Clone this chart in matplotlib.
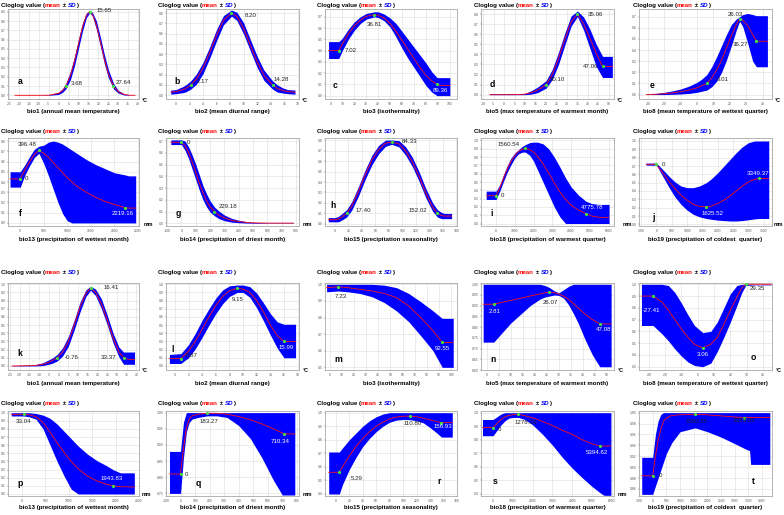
import numpy as np
import matplotlib
matplotlib.use('Agg')
import matplotlib.pyplot as plt
from matplotlib.ticker import FormatStrFormatter

W, H = 784, 515
FONT = ['Liberation Sans', 'DejaVu Sans']
plt.rcParams['font.family'] = FONT

# ---------------- data ----------------
a_x = [-22, -10, -5, 0, 2, 3.68, 6, 8, 10, 12, 14, 15.65, 17, 19, 21, 23, 25, 27.64, 30, 33, 36, 38.5]
a_mean = [0, 0, 0.001, 0.021, 0.052, 0.10, 0.217, 0.368, 0.553, 0.734, 0.863, 0.90, 0.875, 0.758, 0.581, 0.394, 0.236, 0.10, 0.039, 0.009, 0.001, 0]
a_sd = [0.002, 0.002, 0.004, 0.012, 0.02, 0.03, 0.045, 0.05, 0.05, 0.045, 0.025, 0.012, 0.02, 0.045, 0.05, 0.05, 0.045, 0.03, 0.015, 0.006, 0.002, 0.002]

b_x = [-0.8, 0, 0.5, 1, 1.5, 2.17, 3, 4, 5, 6, 7, 8.2, 9, 10, 11, 12, 13, 14.28, 15, 15.8, 16.5, 17.6]
b_mean = [0.03, 0.035, 0.045, 0.054, 0.069, 0.10, 0.157, 0.267, 0.42, 0.587, 0.73, 0.80, 0.768, 0.65, 0.486, 0.325, 0.195, 0.10, 0.065, 0.046, 0.035, 0.03]
b_sd = [0.02, 0.02, 0.025, 0.03, 0.035, 0.04, 0.05, 0.055, 0.055, 0.055, 0.045, 0.03, 0.04, 0.055, 0.055, 0.055, 0.05, 0.04, 0.035, 0.025, 0.02, 0.02]

c_x = [-1.5, 7.02, 10, 15, 20, 25, 30, 36.81, 40, 45, 50, 55, 60, 65, 70, 75, 80, 85, 89.36, 93, 100]
c_mean = [0.40, 0.40, 0.46, 0.55, 0.62, 0.67, 0.705, 0.72, 0.715, 0.69, 0.64, 0.57, 0.49, 0.41, 0.33, 0.25, 0.18, 0.13, 0.10, 0.09, 0.09]
c_lo = [0.33, 0.33, 0.40, 0.50, 0.58, 0.64, 0.68, 0.70, 0.695, 0.665, 0.61, 0.52, 0.42, 0.33, 0.25, 0.17, 0.09, 0.03, 0.0, 0.0, 0.0]
c_hi = [0.48, 0.48, 0.51, 0.59, 0.655, 0.70, 0.73, 0.745, 0.745, 0.725, 0.69, 0.64, 0.57, 0.50, 0.43, 0.36, 0.29, 0.21, 0.16, 0.16, 0.16]

d_x = [-6.8, 0, 5, 10, 13, 16, 20.10, 23, 26, 29, 32, 35.06, 38, 41, 44, 47.06, 51.7]
d_mean = [0, 0, 0, 0.005, 0.02, 0.045, 0.10, 0.20, 0.36, 0.55, 0.72, 0.80, 0.70, 0.56, 0.41, 0.28, 0.28]
d_lo = [0, 0, 0, 0, 0.005, 0.02, 0.065, 0.15, 0.30, 0.49, 0.68, 0.775, 0.64, 0.46, 0.28, 0.17, 0.17]
d_hi = [0.01, 0.01, 0.01, 0.012, 0.04, 0.075, 0.14, 0.25, 0.42, 0.61, 0.78, 0.83, 0.77, 0.65, 0.50, 0.38, 0.38]

e_x = [-31, -25, -20, -15, -10, -5, 0, 3, 6.01, 9, 12, 15, 18, 21, 24, 26.03, 28, 31, 34, 36.27, 40, 43]
e_mean = [0, 0.003, 0.008, 0.015, 0.025, 0.04, 0.06, 0.08, 0.10, 0.15, 0.22, 0.31, 0.42, 0.53, 0.63, 0.68, 0.67, 0.62, 0.54, 0.48, 0.48, 0.48]
e_lo = [0, 0, 0, 0.002, 0.005, 0.01, 0.02, 0.03, 0.04, 0.07, 0.12, 0.20, 0.31, 0.44, 0.58, 0.66, 0.61, 0.46, 0.30, 0.25, 0.25, 0.25]
e_hi = [0.005, 0.01, 0.02, 0.033, 0.05, 0.075, 0.11, 0.14, 0.18, 0.25, 0.34, 0.44, 0.54, 0.63, 0.68, 0.70, 0.72, 0.73, 0.72, 0.71, 0.71, 0.71]

f_x = [-216, 0, 100, 200, 300, 396.48, 500, 600, 700, 800, 900, 1000, 1100, 1200, 1400, 1600, 1800, 2000, 2219.16, 2300, 2450]
f_mean = [0.43, 0.43, 0.52, 0.60, 0.67, 0.71, 0.68, 0.64, 0.59, 0.54, 0.49, 0.44, 0.40, 0.36, 0.30, 0.25, 0.21, 0.18, 0.15, 0.145, 0.145]
f_lo = [0.35, 0.35, 0.47, 0.56, 0.64, 0.68, 0.58, 0.46, 0.33, 0.20, 0.09, 0.02, 0.0, 0.0, 0, 0, 0, 0, 0, 0, 0]
f_hi = [0.50, 0.50, 0.57, 0.65, 0.72, 0.75, 0.76, 0.79, 0.80, 0.79, 0.77, 0.74, 0.71, 0.68, 0.62, 0.57, 0.53, 0.49, 0.47, 0.46, 0.46]

g_x = [-74, 0, 25, 50, 75, 100, 125, 150, 175, 200, 229.18, 260, 300, 350, 400, 450, 500, 600, 781]
g_mean = [0.69, 0.69, 0.66, 0.60, 0.52, 0.43, 0.34, 0.26, 0.19, 0.14, 0.10, 0.07, 0.045, 0.025, 0.015, 0.008, 0.004, 0.002, 0.002]
g_lo = [0.67, 0.67, 0.62, 0.55, 0.46, 0.37, 0.28, 0.20, 0.14, 0.095, 0.065, 0.04, 0.022, 0.01, 0.005, 0.002, 0.001, 0.0, 0.0]
g_hi = [0.71, 0.71, 0.70, 0.65, 0.58, 0.50, 0.41, 0.32, 0.25, 0.19, 0.14, 0.105, 0.07, 0.042, 0.026, 0.015, 0.009, 0.004, 0.004]

h_x = [-9.6, 0, 5, 10, 17.40, 25, 35, 45, 55, 65, 75, 84.33, 95, 105, 115, 125, 135, 145, 152.02, 158, 162, 173]
h_mean = [0.04, 0.04, 0.045, 0.065, 0.10, 0.17, 0.31, 0.47, 0.61, 0.71, 0.77, 0.78, 0.765, 0.695, 0.59, 0.45, 0.29, 0.16, 0.10, 0.08, 0.075, 0.075]
h_sd = [0.02, 0.02, 0.025, 0.03, 0.035, 0.04, 0.045, 0.045, 0.045, 0.04, 0.03, 0.02, 0.03, 0.04, 0.045, 0.045, 0.045, 0.04, 0.035, 0.03, 0.025, 0.025]

i_x = [-525, 0, 200, 400, 600, 800, 1000, 1200, 1400, 1560.54, 1800, 2000, 2200, 2500, 2800, 3100, 3400, 3700, 4000, 4400, 4775.78, 5100, 5500, 6020]
i_mean = [0.335, 0.335, 0.43, 0.55, 0.66, 0.75, 0.82, 0.87, 0.895, 0.905, 0.89, 0.86, 0.81, 0.72, 0.61, 0.49, 0.38, 0.29, 0.22, 0.16, 0.12, 0.09, 0.075, 0.07]
i_lo = [0.29, 0.29, 0.39, 0.51, 0.62, 0.71, 0.79, 0.84, 0.86, 0.86, 0.82, 0.75, 0.65, 0.50, 0.35, 0.20, 0.08, 0.0, 0, 0, 0, 0, 0, 0]
i_hi = [0.39, 0.39, 0.47, 0.59, 0.70, 0.79, 0.85, 0.89, 0.93, 0.95, 0.975, 0.98, 0.98, 0.96, 0.90, 0.80, 0.68, 0.55, 0.44, 0.34, 0.27, 0.24, 0.23, 0.23]

j_x = [-338, 0, 200, 400, 600, 800, 1000, 1200, 1400, 1625.52, 1800, 2000, 2200, 2400, 2600, 2800, 3000, 3200, 3349.37, 3660]
j_mean = [0.72, 0.72, 0.62, 0.52, 0.43, 0.35, 0.29, 0.24, 0.215, 0.21, 0.22, 0.25, 0.29, 0.34, 0.40, 0.46, 0.51, 0.54, 0.55, 0.55]
j_lo = [0.71, 0.71, 0.58, 0.45, 0.33, 0.24, 0.17, 0.12, 0.09, 0.07, 0.06, 0.05, 0.045, 0.04, 0.04, 0.045, 0.055, 0.065, 0.07, 0.07]
j_hi = [0.735, 0.735, 0.66, 0.58, 0.51, 0.46, 0.44, 0.44, 0.46, 0.50, 0.55, 0.62, 0.70, 0.78, 0.86, 0.93, 0.98, 1.0, 1.0, 1.0]

k_x = [-24, -20, -12, -8, -5, -3, -0.76, 2, 5, 8, 11, 14, 16.41, 19, 22, 25, 28, 31, 33.37, 36, 39]
k_mean = [0, 0, 0.005, 0.02, 0.045, 0.07, 0.10, 0.17, 0.30, 0.50, 0.72, 0.89, 0.95, 0.90, 0.76, 0.56, 0.34, 0.17, 0.10, 0.08, 0.08]
k_lo = [0, 0, 0, 0.005, 0.02, 0.035, 0.06, 0.12, 0.24, 0.44, 0.66, 0.85, 0.925, 0.86, 0.70, 0.50, 0.28, 0.11, 0.02, 0.02, 0.02]
k_hi = [0.005, 0.008, 0.015, 0.04, 0.075, 0.10, 0.14, 0.22, 0.36, 0.56, 0.78, 0.93, 0.975, 0.94, 0.82, 0.62, 0.40, 0.23, 0.17, 0.17, 0.17]

l_x = [-0.8, 0.87, 2, 3, 4, 5, 6, 7, 8, 9.15, 10, 11, 12, 13, 14, 15, 15.99, 17, 17.7]
l_mean = [0.09, 0.09, 0.18, 0.30, 0.45, 0.60, 0.74, 0.85, 0.92, 0.95, 0.94, 0.90, 0.80, 0.66, 0.50, 0.37, 0.30, 0.30, 0.30]
l_lo = [0.03, 0.03, 0.10, 0.21, 0.35, 0.50, 0.64, 0.76, 0.85, 0.90, 0.90, 0.84, 0.71, 0.55, 0.38, 0.22, 0.10, 0.10, 0.10]
l_hi = [0.14, 0.15, 0.26, 0.40, 0.56, 0.70, 0.83, 0.93, 0.98, 0.99, 0.99, 0.97, 0.89, 0.77, 0.64, 0.54, 0.51, 0.51, 0.51]

m_x = [-2.4, 7.23, 15, 25, 35, 45, 55, 65, 75, 85, 92.55, 101.6]
m_mean = [0.98, 0.985, 0.98, 0.97, 0.96, 0.945, 0.92, 0.87, 0.80, 0.72, 0.65, 0.65]
m_lo = [0.955, 0.96, 0.955, 0.945, 0.925, 0.89, 0.84, 0.775, 0.69, 0.60, 0.50, 0.50]
m_hi = [1.0, 1.0, 1.0, 1.0, 1.0, 0.995, 0.98, 0.945, 0.895, 0.84, 0.795, 0.795]

n_x = [-1.6, 2.81, 6, 10, 14, 18, 22, 24, 26.07, 28, 30, 32, 34, 36, 38, 41, 44, 47.08, 51.8]
n_mean = [0.907, 0.907, 0.915, 0.925, 0.935, 0.945, 0.955, 0.96, 0.963, 0.961, 0.955, 0.945, 0.93, 0.91, 0.89, 0.86, 0.835, 0.815, 0.815]
n_lo = [0.73, 0.73, 0.77, 0.82, 0.86, 0.90, 0.93, 0.94, 0.945, 0.95, 0.948, 0.935, 0.905, 0.865, 0.82, 0.74, 0.67, 0.615, 0.615]
n_hi = [1.0, 1.0, 1.0, 1.0, 1.0, 1.0, 1.0, 0.995, 0.985, 0.97, 0.96, 0.975, 0.99, 1.0, 1.0, 1.0, 1.0, 1.0, 1.0]

o_x = [-34.5, -27.41, -22, -18, -14, -10, -6, -2, 3.06, 8, 12, 16, 20, 24, 27, 29.35, 35, 45]
o_mean = [0.90, 0.90, 0.85, 0.78, 0.70, 0.62, 0.55, 0.49, 0.46, 0.49, 0.55, 0.66, 0.78, 0.89, 0.97, 1.0, 1.0, 1.0]
o_lo = [0.65, 0.65, 0.58, 0.52, 0.45, 0.39, 0.34, 0.31, 0.30, 0.33, 0.43, 0.55, 0.68, 0.82, 0.93, 0.99, 0.995, 0.995]
o_hi = [1.0, 1.0, 1.0, 0.99, 0.93, 0.84, 0.74, 0.65, 0.59, 0.60, 0.68, 0.80, 0.92, 0.99, 1.0, 1.0, 1.0, 1.0]

p_x = [-230, 0, 33.04, 150, 300, 450, 600, 750, 900, 1050, 1200, 1400, 1600, 1800, 1943.83, 2100, 2400]
p_mean = [0.98, 0.98, 0.98, 0.975, 0.95, 0.88, 0.76, 0.63, 0.51, 0.40, 0.31, 0.22, 0.16, 0.12, 0.10, 0.09, 0.085]
p_lo = [0.96, 0.96, 0.96, 0.95, 0.92, 0.80, 0.60, 0.40, 0.22, 0.06, 0.0, 0, 0, 0, 0, 0, 0]
p_hi = [1.0, 1.0, 1.0, 1.0, 0.99, 0.97, 0.93, 0.86, 0.77, 0.68, 0.59, 0.49, 0.41, 0.35, 0.30, 0.26, 0.26]

q_x = [-76, 0, 20, 40, 60, 80, 120, 183.27, 250, 320, 400, 480, 560, 640, 700, 710.34, 786]
q_mean = [0.81, 0.81, 0.89, 0.95, 0.98, 0.99, 0.995, 0.998, 0.998, 0.995, 0.988, 0.978, 0.965, 0.95, 0.937, 0.934, 0.934]
q_lo = [0.75, 0.75, 0.86, 0.94, 0.97, 0.98, 0.985, 0.99, 0.99, 0.985, 0.96, 0.92, 0.86, 0.79, 0.745, 0.745, 0.745]
q_hi = [0.88, 0.88, 0.97, 1.0, 1.0, 1.0, 1.0, 1.0, 1.0, 1.0, 1.0, 1.0, 1.0, 1.0, 1.0, 1.0, 1.0]

r_x = [-10.5, 5.29, 10, 20, 30, 40, 50, 60, 70, 80, 90, 100, 110.80, 120, 130, 140, 150, 156.93, 173]
r_mean = [0.56, 0.56, 0.60, 0.68, 0.75, 0.81, 0.86, 0.90, 0.93, 0.955, 0.968, 0.974, 0.975, 0.97, 0.96, 0.947, 0.935, 0.926, 0.926]
r_lo = [0.40, 0.40, 0.47, 0.58, 0.67, 0.75, 0.81, 0.86, 0.90, 0.93, 0.945, 0.95, 0.948, 0.94, 0.925, 0.89, 0.85, 0.82, 0.82]
r_hi = [0.71, 0.71, 0.74, 0.80, 0.85, 0.90, 0.94, 0.97, 0.99, 1.0, 1.0, 1.0, 1.0, 1.0, 1.0, 1.0, 1.0, 1.0, 1.0]

s_x = [-535, 0, 200, 400, 600, 800, 1000, 1278.03, 1600, 2000, 2500, 3000, 3500, 4000, 4500, 5000, 5394.62, 5600, 5950]
s_mean = [0.89, 0.89, 0.92, 0.95, 0.97, 0.98, 0.985, 0.988, 0.978, 0.962, 0.935, 0.905, 0.87, 0.84, 0.80, 0.77, 0.754, 0.754, 0.754]
s_lo = [0.83, 0.83, 0.87, 0.91, 0.94, 0.96, 0.965, 0.965, 0.95, 0.91, 0.84, 0.76, 0.67, 0.59, 0.52, 0.455, 0.41, 0.39, 0.39]
s_hi = [0.95, 0.95, 0.97, 0.99, 1.0, 1.0, 1.0, 1.0, 1.0, 1.0, 1.0, 1.0, 1.0, 1.0, 1.0, 1.0, 1.0, 1.0, 1.0]

t_x = [-400, 0, 100, 200, 300, 400, 500, 700, 1000, 1550.85, 2000, 2500, 3000, 3323.03, 3540, 3580, 4280]
t_mean = [0.884, 0.884, 0.92, 0.95, 0.97, 0.985, 0.99, 0.995, 0.996, 0.997, 0.996, 0.994, 0.992, 0.991, 0.991, 0.991, 0.991]
t_lo = [0.85, 0.85, 0.865, 0.88, 0.895, 0.91, 0.925, 0.945, 0.965, 0.972, 0.965, 0.955, 0.943, 0.935, 0.93, 0.905, 0.905]
t_hi = [0.918, 0.918, 0.96, 0.985, 0.997, 1.0, 1.0, 1.0, 1.0, 1.0, 1.0, 1.0, 1.0, 1.0, 1.0, 1.0, 1.0]

XL = ['bio1 (annual mean temperature)', 'bio2 (mean diurnal range)', 'bio3 (isothermality)',
      'bio5 (max temperature of warmest month)', 'bio8 (mean temperature of wettest quarter)',
      'bio13 (precipitation of wettest month)', 'bio14 (precipitation of driest month)',
      'bio15 (precipitation seasonality)', 'bio18 (precipitation of warmest quarter)',
      'bio19 (precipitation of coldest  quarter)']

# ---------------- layout ----------------
COLS = [(8, 139), (166, 299), (325, 457), (481, 614), (639, 772)]
ROWS = [(9, 99), (138, 226), (283, 370), (411, 496)]
TITLE_Y = [5, 131, 272, 403]
XLABEL_Y = [112, 240, 383, 508]
TITLE_X = [1, 158, 317, 474, 633]
DK = '#222222'
WH = 'white'

def yr(a, b, s):
    return np.round(np.arange(a, b + s / 2, s), 3)

PANELS = [
    dict(k='a', x=a_x, m=a_mean, sd=a_sd, xlim=(-25.5, 40.5), ylim=(-0.04, 0.93), xt=range(-25, 41, 5), yt=yr(0, 0.9, 0.1), yf='%.1f',
         unit=('°C', 145, 100), lp=(20, 81),
         lab=[(15.65, '15.65', 7, -1, 'left', DK), (3.68, '3.68', 5, -3, 'left', DK), (27.64, '27.64', 2, -4, 'left', DK)]),
    dict(k='b', x=b_x, m=b_mean, sd=b_sd, xlim=(-1.5, 18.2), ylim=(-0.037, 0.84), xt=range(0, 19, 2), yt=yr(0, 0.8, 0.1), yf='%.1f',
         unit=('°C', 305, 100), lp=(177, 81),
         lab=[(8.2, '8.20', 13, 2, 'left', DK), (2.17, '2.17', 6, -3, 'left', DK), (14.28, '14.28', 1, -5, 'left', DK)]),
    dict(k='c', x=c_x, m=c_mean, lo=c_lo, hi=c_hi, xlim=(-4.5, 106), ylim=(-0.03, 0.77), xt=range(0, 101, 10), yt=yr(0, 0.7, 0.1), yf='%.1f',
         unit=None, lp=(335, 85),
         lab=[(7.02, '7.02', 6, 0, 'left', DK), (36.81, '36.81', 0, 10, 'center', DK), (89.36, '89.36', 3, 6, 'center', WH)]),
    dict(k='d', x=d_x, m=d_mean, lo=d_lo, hi=d_hi, xlim=(-11, 52.5), ylim=(-0.043, 0.85), xt=range(-10, 51, 5), yt=yr(0, 0.8, 0.1), yf='%.1f',
         unit=('°C', 620, 100), lp=(492, 84),
         lab=[(35.06, '35.06', 10, 0, 'left', DK), (20.10, '20.10', 4, -5, 'left', DK), (47.06, '47.06', -4, 0, 'right', DK)]),
    dict(k='e', x=e_x, m=e_mean, lo=e_lo, hi=e_hi, xlim=(-35.4, 45.8), ylim=(-0.04, 0.77), xt=range(-30, 41, 10), yt=yr(0, 0.7, 0.1), yf='%.1f',
         unit=('°C', 778, 100), lp=(652, 86),
         lab=[(26.03, '26.03', -4, -4, 'center', DK), (36.27, '36.27', -8, 3, 'right', DK), (6.01, '6.01', 10, -4, 'left', DK)]),
    dict(k='f', x=f_x, m=f_mean, lo=f_lo, hi=f_hi, xlim=(-260, 2520), ylim=(-0.03, 0.83), xt=range(0, 2501, 500), yt=yr(0, 0.8, 0.1), yf='%.1f',
         unit=('mm', 148, 225), lp=(20, 213),
         lab=[(396.48, '396.48', -2, -6, 'right', DK), (0, '0', 4, 0, 'left', DK), (2219.16, '2219.16', -2, 6, 'center', WH)]),
    dict(k='g', x=g_x, m=g_mean, lo=g_lo, hi=g_hi, xlim=(-108, 820), ylim=(-0.023, 0.726), xt=range(-100, 801, 100), yt=yr(0, 0.7, 0.1), yf='%.1f',
         unit=('mm', 307, 225), lp=(178, 213),
         lab=[(0, '0', 5, 0, 'left', DK), (229.18, '229.18', 4, -5, 'left', DK)]),
    dict(k='h', x=h_x, m=h_mean, sd=h_sd, xlim=(-14.5, 181), ylim=(-0.02, 0.82), xt=range(0, 181, 20), yt=yr(0, 0.8, 0.1), yf='%.1f',
         unit=None, lp=(333, 206),
         lab=[(84.33, '84.33', 10, -1, 'left', DK), (17.40, '17.40', 9, -3, 'left', DK), (152.02, '152.02', -10, -3, 'right', DK)]),
    dict(k='i', x=i_x, m=i_mean, lo=i_lo, hi=i_hi, xlim=(-803, 6283), ylim=(-0.03, 1.03), xt=range(0, 6001, 1000), yt=yr(0, 1.0, 0.1), yf='%.1f',
         unit=('mm', 627, 225), lp=(492, 214),
         lab=[(1560.54, '1560.54', -6, -4, 'right', DK), (0, '0', 5, 0, 'left', DK), (4775.78, '4775.78', 6, -6, 'center', WH)]),
    dict(k='j', x=j_x, m=j_mean, lo=j_lo, hi=j_hi, xlim=(-568, 3766), ylim=(-0.02, 1.036), xt=range(-500, 3501, 500), yt=yr(0, 1.0, 0.1), yf='%.1f',
         unit=('mm', 778, 225), lp=(653, 217),
         lab=[(0, '0', 5, 0, 'left', DK), (1625.52, '1625.52', 6, 7, 'center', WH), (3349.37, '3349.37', -1, -5, 'center', WH)]),
    dict(k='k', x=k_x, m=k_mean, lo=k_lo, hi=k_hi, xlim=(-26, 41.3), ylim=(-0.05, 1.015), xt=range(-25, 41, 5), yt=yr(0, 1.0, 0.1), yf='%.1f',
         unit=('°C', 145, 371), lp=(20, 353),
         lab=[(16.41, '16.41', 13, -1, 'left', DK), (-0.76, '-0.76', 8, 0, 'left', DK), (33.37, '33.37', -7, 0, 'right', DK)]),
    dict(k='l', x=l_x, m=l_mean, lo=l_lo, hi=l_hi, xlim=(-1.3, 18.2), ylim=(-0.05, 1.015), xt=range(0, 19, 2), yt=yr(0, 1.0, 0.1), yf='%.1f',
         unit=('°C', 306, 371), lp=(173, 349),
         lab=[(9.15, '9.15', 0, 11, 'center', DK), (0.87, '0.87', 5, -3, 'left', DK), (15.99, '15.99', 2, 6, 'center', WH)]),
    dict(k='m', x=m_x, m=m_mean, lo=m_lo, hi=m_hi, xlim=(-3.7, 104.7), ylim=(0.484, 1.008), xt=range(0, 101, 10), yt=yr(0.5, 1.0, 0.1), yf='%.1f',
         unit=None, lp=(338, 359),
         lab=[(7.23, '7.23', 2, 10, 'center', DK), (92.55, '92.55', 0, 6, 'center', WH)]),
    dict(k='n', x=n_x, m=n_mean, lo=n_lo, hi=n_hi, xlim=(-2.5, 53), ylim=(0.6, 1.006), xt=range(0, 51, 5), yt=yr(0.6, 1.0, 0.05), yf='%.2f',
         unit=('°C', 621, 371), lp=(493, 359),
         lab=[(2.81, '2.81', 1, 7, 'center', WH), (26.07, '26.07', 1, 10, 'center', DK), (47.08, '47.08', 4, 6, 'center', WH)]),
    dict(k='o', x=o_x, m=o_mean, lo=o_lo, hi=o_hi, xlim=(-36, 45.5), ylim=(0.272, 1.011), xt=range(-30, 41, 10), yt=yr(0.3, 1.0, 0.1), yf='%.1f',
         unit=('°C', 779, 371), lp=(753, 358),
         lab=[(29.35, '29.35', 4, 4, 'left', DK), (-27.41, '-27.41', -2, 14, 'center', WH), (3.06, '3.06', 0, 7, 'center', WH)]),
    dict(k='p', x=p_x, m=p_mean, lo=p_lo, hi=p_hi, xlim=(-300, 2460), ylim=(-0.025, 1.021), xt=range(0, 2501, 500), yt=yr(0, 1.0, 0.1), yf='%.1f',
         unit=('mm', 146, 494), lp=(20, 484),
         lab=[(33.04, '33.04', 0, 7, 'center', DK), (1943.83, '1943.83', -1, -7, 'center', WH)]),
    dict(k='q', x=q_x, m=q_mean, lo=q_lo, hi=q_hi, xlim=(-100, 815), ylim=(0.742, 1.005), xt=range(-100, 801, 100), yt=yr(0.75, 1.0, 0.05), yf='%.2f',
         unit=('mm', 307, 494), lp=(198, 484),
         lab=[(183.27, '183.27', 2, 8, 'center', DK), (0, '0', 4, 0, 'left', DK), (710.34, '710.34', -4, 8, 'center', WH)]),
    dict(k='r', x=r_x, m=r_mean, lo=r_lo, hi=r_hi, xlim=(-16, 180), ylim=(0.385, 1.0125), xt=range(0, 181, 20), yt=yr(0.4, 1.0, 0.1), yf='%.1f',
         unit=None, lp=(439, 482),
         lab=[(5.29, '5.29', 11, 6, 'left', DK), (110.80, '110.80', 2, 7, 'center', DK), (156.93, '156.93', 1, 4, 'center', WH)]),
    dict(k='s', x=s_x, m=s_mean, lo=s_lo, hi=s_hi, xlim=(-610, 6107), ylim=(0.385, 1.0125), xt=range(0, 6001, 1000), yt=yr(0.4, 1.0, 0.1), yf='%.1f',
         unit=('mm', 622, 494), lp=(495, 482),
         lab=[(0, '0', 5, 2, 'left', DK), (1278.03, '1278.03', 7, 8, 'center', DK), (5394.62, '5394.62', -3, 6, 'center', WH)]),
    dict(k='t', x=t_x, m=t_mean, lo=t_lo, hi=t_hi, xlim=(-420, 4360), ylim=(0.847, 1.003), xt=range(-500, 4001, 500), yt=yr(0.86, 1.0, 0.02), yf='%.2f',
         unit=None, lp=(753, 482),
         lab=[(0, '0', 6, 0, 'left', DK), (1550.85, '1550.85', 1, 7, 'center', DK), (3323.03, '3323.03', 0, 3, 'center', DK)]),
]

fig = plt.figure(figsize=(W / 100, H / 100), dpi=100)
overlay = fig.add_axes([0, 0, 1, 1])
overlay.set_xlim(0, 1)
overlay.set_ylim(0, 1)
overlay.axis('off')

TS = 4.4


def title(xp, yp):
    kw = dict(fontsize=TS, fontweight='bold', va='bottom', ha='left', annotation_clip=False)
    t = overlay.text(xp / W, 1 - (yp + 3) / H, 'Cloglog value (', color='black',
                     fontsize=TS, fontweight='bold', va='bottom', ha='left')
    for s, c, st in [('mean', 'red', 'normal'), (' \u00b1 ', 'black', 'normal'),
                     ('SD', 'blue', 'italic'), (')', 'black', 'normal')]:
        t = overlay.annotate(s, xy=(1, 0), xycoords=t, color=c, fontstyle=st, **kw)


for idx, P in enumerate(PANELS):
    col = idx % 5
    row = idx // 5
    l, r = COLS[col]
    tp, bt = ROWS[row]
    ax = fig.add_axes([l / W, 1 - bt / H, (r - l) / W, (bt - tp) / H])
    x = np.array(P['x'], float)
    m = np.array(P['m'], float)
    if 'sd' in P:
        sd = np.array(P['sd'], float)
        lo = np.clip(m - sd, 0, 1)
        hi = np.clip(m + sd, 0, 1)
    else:
        lo = np.array(P['lo'], float)
        hi = np.array(P['hi'], float)
    ax.fill_between(x, lo, hi, color='#0000ff', lw=0, zorder=2)
    ax.plot(x, m, color='#ff1010', lw=0.6, zorder=3)
    for (px_, txt, dx, dy, ha, c) in P['lab']:
        py_ = float(np.interp(px_, x, m))
        ax.plot([px_], [py_], 'o', ms=2.3, color='#40e040', mew=0, zorder=4)
        ax.annotate(txt, (px_, py_), xytext=(dx, -dy), textcoords='offset pixels',
                    ha=ha, va='center', fontsize=4.4, color=c, zorder=5)
    ax.set_xlim(*P['xlim'])
    ax.set_ylim(*P['ylim'])
    ax.set_xticks(list(P['xt']))
    ax.set_yticks(P['yt'])
    ax.yaxis.set_major_formatter(FormatStrFormatter(P['yf']))
    ax.xaxis.set_major_formatter(FormatStrFormatter('%g'))
    ax.set_axisbelow(True)
    ax.grid(True, color='#dcdcdc', lw=0.4)
    for sp in ax.spines.values():
        sp.set_color('#a8a8a8')
        sp.set_linewidth(0.6)
    ax.tick_params(labelsize=2.4, length=1, width=0.3, pad=1, colors='#555555')

    # texts around the panel
    title(TITLE_X[col], TITLE_Y[row])
    fig.text((l + r) / 2 / W, 1 - XLABEL_Y[row] / H, XL[idx % 10], ha='center', va='center',
             fontsize=TS, fontweight='bold')
    lx, ly = P['lp']
    fig.text(lx / W, 1 - ly / H, P['k'], ha='center', va='center', fontsize=6.2, fontweight='bold')
    if P['unit']:
        u, ux, uy = P['unit']
        fig.text(ux / W, 1 - uy / H, u, ha='center', va='center', fontsize=3.8, fontweight='bold')

fig.savefig('out.png', dpi=100)
